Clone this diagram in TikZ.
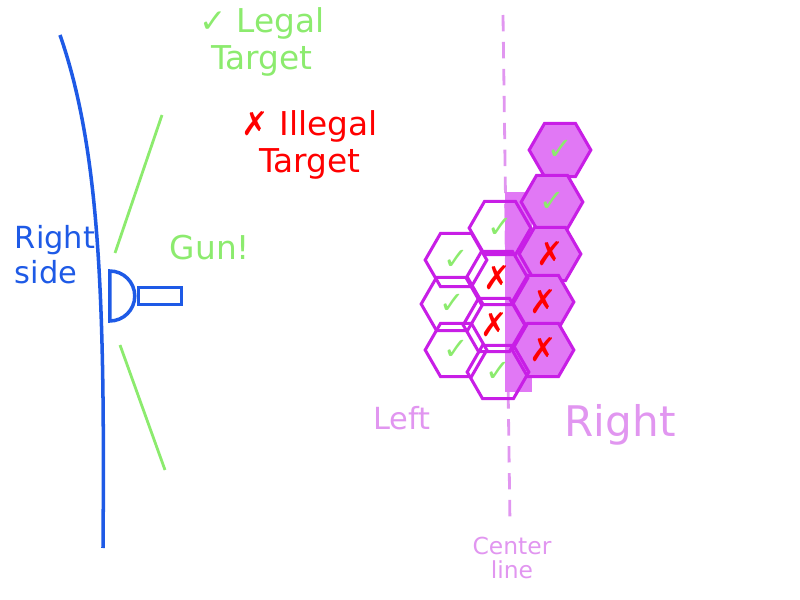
\documentclass[tikz,border=0pt]{standalone}
\usepackage{fontspec}
\setmainfont{DejaVu Sans}
\usetikzlibrary{shapes.geometric}
\definecolor{ink}{RGB}{30,90,230}
\definecolor{lime}{RGB}{140,235,110}
\definecolor{hexline}{RGB}{200,30,230}
\definecolor{hexfill}{RGB}{225,120,245}
\definecolor{pinky}{RGB}{225,150,240}
\tikzstyle{hex} = [regular polygon, regular polygon sides=6, draw=hexline, line width=2.6pt, minimum size=1.85cm, inner sep=0pt]
\tikzstyle{shaded} = [hex, fill=hexfill]
\tikzstyle{ok} = [text=lime, font=\fontsize{26}{26}\selectfont]
\tikzstyle{no} = [text=red, font=\fontsize{28}{28}\selectfont]
\begin{document}
\begin{tikzpicture}[x=0.3mm, y=-0.3mm]
  \useasboundingbox (0,0) rectangle (800,600);

  % left side
  \draw [ink, line width=3pt] (60,35) .. controls (100,150) and (105,300) .. (103,548);
  \node (gun) [draw=ink, line width=3pt, semicircle, shape border rotate=270, minimum size=0.75cm, inner sep=0pt, anchor=chord center] at (108,296) {};
  \node (barrel) [draw=ink, line width=3pt, minimum width=1.3cm, minimum height=0.5cm, anchor=west, inner sep=0pt] at (gun.east) {};
  \node (side) [text=ink, align=left, font=\fontsize{26}{30}\selectfont] at (55,255) {Right\\side};
  \node (gunlabel) [text=lime, font=\fontsize{28}{28}\selectfont] at (210,248) {Gun!};
  \coordinate (a1) at (162,115); \coordinate (a2) at (115,253);
  \coordinate (b1) at (120,345); \coordinate (b2) at (165,470);
  \draw [lime, line width=2.4pt] (a1) -- (a2);
  \draw [lime, line width=2.4pt] (b1) -- (b2);

  % legend
  \node (legal) [text=lime, align=center, font=\fontsize{28}{32}\selectfont] at (262,42) {✓ Legal\\Target};
  \node (illegal) [text=red, align=center, font=\fontsize{28}{32}\selectfont] at (310,145) {✗ Illegal\\Target};

  % center line
  \coordinate (top) at (503,15); \coordinate (bot) at (510,525);
  \draw [pinky, line width=2.4pt, dash pattern=on 14pt off 9pt] (top) -- (bot);
  \fill [hexfill] (505,192) rectangle (532,392);

  % hexes
  \node (r1) [shaded] at (560,150) {}; \node [ok] at (r1) {✓};
  \node (r2) [shaded] at (552,202) {}; \node [ok] at (r2) {✓};
  \node (r3) [shaded] at (550,254) {}; \node [no] at (r3) {✗};
  \node (r4) [shaded] at (543,302) {}; \node [no] at (r4) {✗};
  \node (r5) [shaded] at (543,350) {}; \node [no] at (r5) {✗};
  \node (m1) [hex] at (500,228) {}; \node [ok] at (m1) {✓};
  \node (m2) [hex] at (497,278) {}; \node [no] at (m2) {✗};
  \node (m3) [hex] at (494,325) {}; \node [no] at (m3) {✗};
  \node (m4) [hex] at (498,372) {}; \node [ok] at (m4) {✓};
  \node (l1) [hex] at (456,260) {}; \node [ok] at (l1) {✓};
  \node (l2) [hex] at (452,304) {}; \node [ok] at (l2) {✓};
  \node (l3) [hex] at (456,350) {}; \node [ok] at (l3) {✓};

  % labels
  \node (left) [text=pinky, font=\fontsize{26}{26}\selectfont] at (402,418) {Left};
  \node (right) [text=pinky, font=\fontsize{36}{36}\selectfont] at (620,425) {Right};
  \node (center) [text=pinky, align=center, font=\fontsize{20}{20}\selectfont] at (512,558) {Center\\line};
\end{tikzpicture}
\end{document}
